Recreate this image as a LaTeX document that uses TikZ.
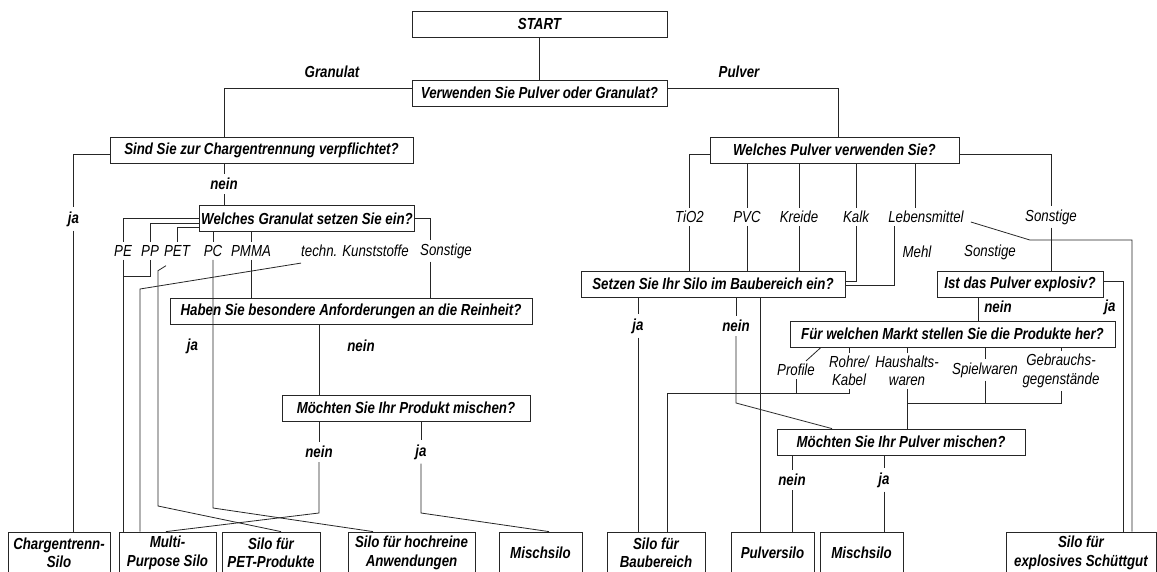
\documentclass[tikz,border=0pt]{standalone}
\usepackage{fontspec}
\setmainfont[FakeStretch=0.83]{Liberation Sans}
\usepackage{tikz}
\usetikzlibrary{positioning}
\tikzstyle{block} = [rectangle, draw=black!85, line width=0.8pt, fill=white, font=\bfseries\itshape, minimum height=26pt, inner sep=2pt, text centered]
\tikzstyle{silo} = [block, minimum height=42pt, align=center]
\tikzstyle{opt} = [font=\itshape, inner sep=3pt, align=center]
\tikzstyle{answer} = [font=\bfseries\itshape, inner sep=4pt]
\tikzstyle{line} = [draw, line width=0.8pt, color=black!85]

\begin{document}
\fontsize{16}{18.5}\selectfont
\begin{tikzpicture}[x=1pt, y=-1pt]
  	\path[use as bounding box, clip] (0,0) rectangle (1157,572);
  	%% start
  	\node[block, minimum width=255pt] (start) at (539.5,24) {START};
  	\node[block, minimum width=255pt] (verw) at (539.5,93) {Verwenden Sie Pulver oder Granulat?};
  	\node[answer] (granulat) at (332,72) {Granulat};
  	\node[answer] (pulver) at (739,72) {Pulver};
  	%% Granulat side
  	\node[block, minimum width=303pt] (sind) at (261.5,150) {Sind Sie zur Chargentrennung verpflichtet?};
  	\node[answer] (sindja) at (73.5,219) {ja};
  	\node[answer] (sindnein) at (224,184) {nein};
  	\node[block, minimum width=212pt] (granulatart) at (307,218.5) {Welches Granulat setzen Sie ein?};
  	\node[opt] (pe) at (123,251) {PE};
  	\node[opt] (pp) at (150,251) {PP};
  	\node[opt] (pet) at (177,251) {PET};
  	\node[opt] (pc) at (213,251) {PC};
  	\node[opt] (pmma) at (251,251) {PMMA};
  	\node[opt] (techn) at (355,251) {techn. Kunststoffe};
  	\node[opt] (sonstG) at (446,251) {Sonstige};
  	\node[block, minimum width=362pt] (haben) at (351,311) {Haben Sie besondere Anforderungen an die Reinheit?};
  	\node[answer] (habenja) at (192.5,346) {ja};
  	\node[answer] (habennein) at (361,346) {nein};
  	\node[block, minimum width=248pt] (mischprod) at (406,408) {Möchten Sie Ihr Produkt mischen?};
  	\node[answer] (mischnein) at (319,452) {nein};
  	\node[answer] (mischja) at (421,452) {ja};
  	%% Pulver side
  	\node[block, minimum width=249pt] (pulverart) at (834.5,150) {Welches Pulver verwenden Sie?};
  	\node[opt] (tio2) at (689.5,217) {TiO2};
  	\node[opt] (pvc) at (747,217) {PVC};
  	\node[opt] (kreide) at (799,217) {Kreide};
  	\node[opt] (kalk) at (856,217) {Kalk};
  	\node[opt] (lebens) at (926,217) {Lebensmittel};
  	\node[opt] (sonstP) at (1051,217) {Sonstige};
  	\node[opt] (mehl) at (917,252) {Mehl};
  	\node[opt] (sonstM) at (990,252) {Sonstige};
  	\node[block, minimum width=264pt] (setzen) at (713,284) {Setzen Sie Ihr Silo im Baubereich ein?};
  	\node[answer] (setzenja) at (638,326) {ja};
  	\node[answer] (setzennein) at (736,326) {nein};
  	\node[block, minimum width=166pt] (explosiv) at (1020,284) {Ist das Pulver explosiv?};
  	\node[answer] (explnein) at (998,307) {nein};
  	\node[answer] (explja) at (1110,307) {ja};
  	\node[block, minimum width=325pt] (markt) at (952.5,334) {Für welchen Markt stellen Sie die Produkte her?};
  	\node[opt] (profile) at (796,370) {Profile};
  	\node[opt] (rohre) at (849,371) {Rohre/\\Kabel};
  	\node[opt] (haus) at (907,371) {Haushalts-\\waren};
  	\node[opt] (spiel) at (985,370) {Spielwaren};
  	\node[opt] (gebr) at (1061,371) {Gebrauchs-\\gegenstände};
  	\node[block, minimum width=248pt] (mischpulv) at (901,442) {Möchten Sie Ihr Pulver mischen?};
  	\node[answer] (mpnein) at (792,480) {nein};
  	\node[answer] (mpja) at (884,480) {ja};
  	%% silos
  	\node[silo, minimum width=102pt] (chargen) at (59,553) {Chargentrenn-\\Silo};
  	\node[silo, minimum width=97pt] (multi) at (167.5,553) {Multi-\\Purpose Silo};
  	\node[silo, minimum width=98pt] (petbox) at (271,553) {Silo für\\PET-Produkte};
  	\node[silo, minimum width=127pt] (hochrein) at (411.5,553) {Silo für hochreine\\Anwendungen};
  	\node[silo, minimum width=83pt] (misch1) at (540.5,553) {Mischsilo};
  	\node[silo, minimum width=98pt] (bau) at (656,553) {Silo für\\Baubereich};
  	\node[silo, minimum width=83pt] (pulversilo) at (772.5,553) {Pulversilo};
  	\node[silo, minimum width=83pt] (misch2) at (861.5,553) {Mischsilo};
  	\node[silo, minimum width=150pt] (explo) at (1081,553) {Silo für\\explosives Schüttgut};
  	%% bends
  	\coordinate (ppj) at (150,276);
  	\coordinate (petbend) at (158,506);
  	\coordinate (tkbend) at (140,289);
  	\coordinate (pcbend) at (213,508);
  	\coordinate (nbend) at (319,513);
  	\coordinate (jbend) at (421,513);
  	\coordinate (baujoin) at (667,393);
  	\coordinate (hj) at (907,403);
  	%% edges
  	\path[line] (start) -- (verw);
  	\path[line] ([yshift=5pt]verw.west) -| (sind.north -| sindnein);
  	\path[line] ([yshift=5pt]verw.east) -| ([xshift=3.5pt]pulverart.north);
  	\path[line] ([yshift=-4pt]sind.west) -| (sindja);
  	\path[line] (sindja) -- (chargen.north -| sindja);
  	\path[line] (sind.south -| sindnein) -- (sindnein);
  	\path[line] (sindnein) -- (granulatart.north -| sindnein);
  	\path[line] (granulatart.west) -| (pe);
  	\path[line] ([yshift=-4.5pt]granulatart.west) -| (pp);
  	\path[line] ([yshift=-8.5pt]granulatart.west) -| (pet);
  	\path[line] (granulatart.south -| pc) -- (pc);
  	\path[line] (granulatart.south -| pmma) -- (pmma);
  	\path[line] (granulatart.east) -| ([xshift=-15.5pt]sonstG.north);
  	\path[line] (pe) -- (pe |- multi.north);
  	\path[line] (pp) -- (ppj) -- (pe |- ppj);
  	\path[line] ([xshift=-11pt,yshift=-6pt]pet.south) -- ++(-8,5) -- (petbend) -- ([xshift=10pt]petbox.north);
  	\path[line] ([xshift=3pt,yshift=-3pt]techn.south west) -- (tkbend) -- (tkbend |- multi.north);
  	\path[line] (pc) -- (pcbend) -- ([xshift=-38.5pt]hochrein.north);
  	\path[line] (pmma) -- (pmma |- haben.north);
  	\path[line] ([xshift=-15.5pt]sonstG.south) -- ([xshift=-15.5pt]sonstG.south |- haben.north);
  	\path[line] ([xshift=-32pt]haben.south) -- ([xshift=-32pt]haben.south |- mischprod.north);
  	\path[line] (mischprod.south -| mischnein) -- (mischnein);
  	\path[line] (mischnein) -- (nbend) -- ([xshift=-1.5pt]multi.north);
  	\path[line] (mischprod.south -| mischja) -- (mischja);
  	\path[line] (mischja) -- (jbend) -- ([xshift=8.5pt]misch1.north);
  	%% Pulver edges
  	\path[line] ([yshift=-4pt]pulverart.west) -| (tio2);
  	\path[line] (pulverart.south -| pvc) -- (pvc);
  	\path[line] (pulverart.south -| kreide) -- (kreide);
  	\path[line] (pulverart.south -| kalk) -- (kalk);
  	\path[line] ([xshift=-11pt]lebens.north |- pulverart.south) -- ([xshift=-11pt]lebens.north);
  	\path[line] ([yshift=-4pt]pulverart.east) -| (sonstP);
  	\path[line] (tio2) -- (tio2 |- setzen.north);
  	\path[line] (pvc) -- (pvc |- setzen.north);
  	\path[line] (kreide) -- (kreide |- setzen.north);
  	\path[line] (kalk) |- ([yshift=3pt]setzen.east);
  	\path[line] ([xshift=-32pt]lebens.south) |- ([yshift=-1.5pt]setzen.east);
  	\path[line] ([xshift=4pt,yshift=-5pt]lebens.east) -- ++(59,18) -| ([xshift=51pt]explo.north);
  	\path[line] (sonstP) -- (sonstP |- explosiv.north);
  	\path[line] ([yshift=3pt]explosiv.east) -| ([xshift=42pt]explo.north);
  	\path[line] ([xshift=-42pt]explosiv.south) -- ([xshift=-42pt]explosiv.south |- markt.north);
  	\path[line] ([xshift=-131.5pt]markt.south) -- (profile);
  	\path[line] (markt.south -| rohre) -- (rohre);
  	\path[line] (markt.south -| haus) -- (haus);
  	\path[line] (markt.south -| spiel) -- (spiel);
  	\path[line] (markt.south -| gebr) -- (gebr);
  	\path[line] (profile) -- (profile |- baujoin);
  	\path[line] (rohre) |- (baujoin) -- (baujoin |- bau.north);
  	\path[line] (haus) -- (haus |- mischpulv.north);
  	\path[line] (spiel) -- (spiel |- hj);
  	\path[line] (gebr) |- (hj);
  	\path[line] (setzen.south -| setzenja) -- (setzenja);
  	\path[line] (setzenja) -- (setzenja |- bau.north);
  	\path[line] (setzen.south -| setzennein) -- (setzennein);
  	\path[line] (setzennein) -- (setzennein |- hj) -- ([xshift=-69pt]mischpulv.north);
  	\path[line] ([xshift=47pt]setzen.south) -- ([xshift=47pt]setzen.south |- pulversilo.north);
  	\path[line] (mischpulv.south -| mpnein) -- (mpnein);
  	\path[line] (mpnein) -- (mpnein |- pulversilo.north);
  	\path[line] (mischpulv.south -| mpja) -- (mpja);
  	\path[line] (mpja) -- (mpja |- misch2.north);
\end{tikzpicture}
\end{document}
